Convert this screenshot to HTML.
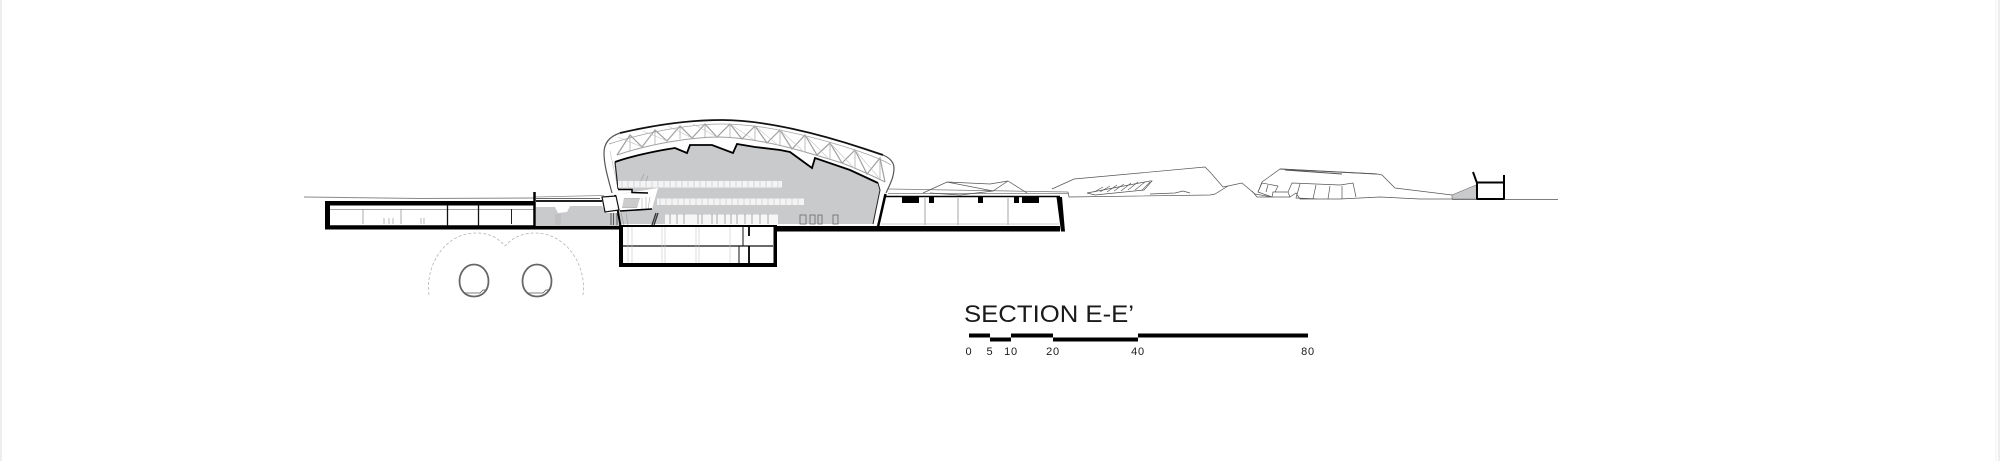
<!DOCTYPE html>
<html><head><meta charset="utf-8"><style>
html,body{margin:0;padding:0;background:#fff;width:2000px;height:461px;overflow:hidden}
svg{display:block}
text{font-family:"Liberation Sans",sans-serif;fill:#1a1a1a}
</style></head><body>
<svg width="2000" height="461" viewBox="0 0 2000 461" xmlns="http://www.w3.org/2000/svg">
<rect width="2000" height="461" fill="#fff"/>
<path d="M1 0V461M1999 0V461" stroke="#ddd" stroke-width="1"/>
<path d="M1996 0V461" stroke="#f0f0f0"/>

<!-- ground left -->
<path d="M304 197L420 198.500L535 198" stroke="#888" fill="none" stroke-width="1"/>
<path d="M535 197L604 195.500" stroke="#888" fill="none" stroke-width="0.8"/>

<!-- left long box -->
<path d="M325 201H535V226H620V229.500H325Z M330 205.500V225.300H535V205.500Z" fill="#000" fill-rule="evenodd"/>
<path d="M330 209.500H535" stroke="#888" stroke-width="0.7"/>
<path d="M363 209V224M401 209V224" stroke="#888" stroke-width="0.7"/>
<path d="M447.500 205V226M478.500 205V226" stroke="#111" stroke-width="1.300"/>
<path d="M511.500 209V224" stroke="#222" stroke-width="1"/>
<path d="M384 218V224M389 218V224M393 218V224M421 218V224M424 218V224" stroke="#aaa" stroke-width="0.8"/>
<!-- grey block -->
<path d="M536 207H555L558 213L567 212L570 206H602L606 213H622V226H536Z" fill="#c9cacc"/>
<path d="M556 214V225M558 214V225M560 214V225" stroke="#aaa" stroke-width="0.6"/>
<path d="M534.500 192V226" stroke="#000" stroke-width="2.500"/>
<path d="M536 198.500H600" stroke="#333" stroke-width="0.8"/>
<path d="M536 201H602" stroke="#000" stroke-width="1.800"/>

<!-- tunnel guides -->
<path d="M429 295C425 265 445 233 476 233C490 233 498 238 505 246C512 238 522 233 535 233C566 233 587 265 583 295" fill="none" stroke="#b5b5b5" stroke-width="0.8" stroke-dasharray="3 2"/>
<path d="M474 264.500C483 264.500 488.500 273 488.500 281C488.500 291 482 296.500 474 296.500C466 296.500 459.500 291 459.500 281C459.500 273 465 264.500 474 264.500Z M537 264.500C546 264.500 551.500 273 551.500 281C551.500 291 545 296.500 537 296.500C529 296.500 522.500 291 522.500 281C522.500 273 528 264.500 537 264.500Z" fill="#fff" stroke="#666" stroke-width="1.800"/>
<path d="M464 293H480L483 290H487M527 293H543L546 290H550" fill="none" stroke="#555" stroke-width="0.7"/>

<!-- roof shell -->
<path d="M612 193C608 178 604 165 604 153C604 142 611 136 620 133C650 126 685 120 722 120C765 120 820 134 865 149C880 154 894 160 894 168C894 178 889 186 885 195L878 226H621Z" fill="#fff"/>
<!-- truss -->
<g fill="none" stroke="#a0a0a0" stroke-width="1.200">
<path d="M617 155L630 135L642 147L655 130L667 141L680 126L692 138L705 124L717 137L730 124L742 139L755 126L767 143L780 130L792 149L805 135L817 155L830 143L842 163L855 150L867 174L880 158L885 182"/>
<path d="M617 155C650 144 690 137 720 137C760 138 800 150 842 163C860 170 875 177 885 182" stroke-width="1"/>
<path d="M609 144C640 134 685 124 722 124C765 124 815 137 855 150C870 155 885 161 891 165" stroke-width="0.7"/>
<path d="M630 135L630 151M655 130L655 144M680 126L680 139M705 124L705 137M730 124L730 138M755 126L755 141M780 130L780 146M805 135L805 152M830 143L830 159M855 150L855 168M880 158L880 179" stroke-width="0.7"/>
<path d="M642 147L618 137M667 141L643 131M692 138L668 126M717 137L693 124M730 124L754 140M755 126L779 146M780 130L804 152M805 135L829 159M830 143L854 168M855 150L879 178" stroke="#c5c5c5" stroke-width="0.6"/>
</g>
<path d="M612 193C608 178 604 165 604 153C604 142 611 136 620 133" fill="none" stroke="#555" stroke-width="1.200"/>
<path d="M620 133C650 126 685 120 722 120C765 120 820 134 865 149C871 151 877 153 883 155" fill="none" stroke="#111" stroke-width="1.800"/>
<path d="M883 155C890 158 894 162 894 168C894 178 889 186 886 193" fill="none" stroke="#555" stroke-width="1.200"/>
<path d="M610 151L614 170L618 188" fill="none" stroke="#bbb" stroke-width="0.6"/>

<!-- grey interior -->
<path d="M615 162C628 157 655 151 675 148L687 153L690 145L712 145L733 153L737 144L755 147L780 150L790 152L812 168L815 158L850 170L878 183L880 190L873 224H621L618 212L615 195L632 192V189L618 189.500Z" fill="#c9cacc"/>
<path d="M615 162C628 157 655 151 675 148L687 153L690 145L712 145L733 153L737 144L755 147L780 150L790 152L812 168L815 158L850 170L878 183" fill="none" stroke="#000" stroke-width="1.800"/>
<path d="M878 183L880 190L873 224" fill="none" stroke="#222" stroke-width="1"/>
<path d="M615 162L618 189" fill="none" stroke="#222" stroke-width="1.200"/>
<!-- white bands -->
<rect x="618" y="181" width="164" height="6.500" fill="#f4f4f4"/>
<rect x="657" y="198.500" width="147" height="6.500" fill="#f4f4f4"/>
<rect x="665" y="214.500" width="113" height="10" fill="#f6f6f6"/>
<path d="M622 181V187M628 181V187M634 181V187M640 181V187M646 181V187M652 181V187M658 181V187M664 181V187M670 181V187M676 181V187M682 181V187M688 181V187M694 181V187M700 181V187M706 181V187M712 181V187M718 181V187M724 181V187M730 181V187M736 181V187M742 181V187M748 181V187M754 181V187M760 181V187M766 181V187M772 181V187M778 181V187" stroke="#c9c9c9" stroke-width="0.7"/>
<path d="M660 198.500V205M666 198.500V205M672 198.500V205M678 198.500V205M684 198.500V205M690 198.500V205M696 198.500V205M702 198.500V205M708 198.500V205M714 198.500V205M720 198.500V205M726 198.500V205M732 198.500V205M738 198.500V205M744 198.500V205M750 198.500V205M756 198.500V205M762 198.500V205M768 198.500V205M774 198.500V205M780 198.500V205M786 198.500V205M792 198.500V205M798 198.500V205" stroke="#c9c9c9" stroke-width="0.7"/>
<path d="M670 214V224M677 214V224M684 214V224M698 214V224M702 214V224M712 214V224M717 214V224M725 214V224M731 214V224M737 214V224M745 214V224M752 214V224M760 214V224M768 214V224" stroke="#888" stroke-width="0.7"/>
<path d="M800 215H806V224H800ZM810 215H815V224H810ZM818 215H822V224H818ZM833 215H838V224H833Z" fill="none" stroke="#666" stroke-width="0.8"/>

<!-- entry / stair detail -->
<path d="M615 195L658 188L652 209L620 211Z" fill="#fff"/>
<path d="M624 198H640L637 208H622Z" fill="#bbb"/>
<path d="M624 200H640M623 202H639M623 204H638M622 206H637" stroke="#fff" stroke-width="0.6"/>
<path d="M642 198V209M646 197V209M650 197L648 209" stroke="#aaa" stroke-width="0.6"/>
<path d="M618 189.500H632V192.500L648 193" fill="none" stroke="#000" stroke-width="1.500"/>
<path d="M615 195L620.500 226" fill="none" stroke="#000" stroke-width="2"/>
<path d="M620 211L652 209" fill="none" stroke="#000" stroke-width="1.500"/>
<path d="M641 181L644 174M646 181L648 176" stroke="#999" stroke-width="0.6"/>
<path d="M602 197L616 196L619 210L605 212Z" fill="#fff" stroke="#111" stroke-width="1.200"/>
<path d="M611 213V225M613.500 213V225M617 213V225" stroke="#555" stroke-width="1"/>
<path d="M656 213L652 225M658 213L654 225" stroke="#333" stroke-width="1.300"/>
<path d="M621 213L624 225M626 213L628 225" stroke="#999" stroke-width="0.6"/>

<!-- basement -->
<path d="M619 225H777V267H619Z M623 227V263H773.500V227Z" fill="#000" fill-rule="evenodd"/>
<path d="M623 246H773" stroke="#111" stroke-width="1.300"/>
<path d="M743 227V246M739 246V263" stroke="#111" stroke-width="1"/>
<path d="M749 246V263M749 227V236" stroke="#000" stroke-width="1.800"/>
<path d="M628 227V263M632 227V263M662 227V263M665 227V263M696 227V263M699 227V263M730 227V263" stroke="#c5c5c5" stroke-width="0.6"/>

<!-- middle box -->
<path d="M777 226H1060V231.500H777Z" fill="#000"/>
<path d="M1062 197H1056.500L1061 231.500H1065Z" fill="#000"/>
<path d="M885 196.500H1060" stroke="#000" stroke-width="1.600"/>
<path d="M885.500 194L878 227" stroke="#000" stroke-width="2.500"/>
<path d="M902 197H919V203H902ZM929 197H934V203H929ZM978 197H983V203H978ZM1014 197H1019V203H1014ZM1022 197H1039V203H1022Z" fill="#000"/>
<path d="M925 198V225M958 198V225M1008 198V225" stroke="#b5b5b5" stroke-width="1.200"/>
<path d="M881 224H1059" stroke="#bbb" stroke-width="0.7"/>
<path d="M888 189L1068 192M888 193.500H1068" stroke="#777" stroke-width="0.7" fill="none"/>

<!-- hills -->
<g fill="none" stroke="#555" stroke-width="0.7">
<path d="M923 193L947 182L993 191L1008 181L1027 193"/>
<path d="M947 182L990 184L1008 181M930 193L960 195L993 191"/>
<path d="M1052 189L1074 179L1205 167L1210 172L1223 187L1228 186L1242 183L1255 194L1272 197L1258 192L1262 182L1280 169L1377 174L1382 175L1395 188L1452 195"/>
<path d="M1068 192L1069 197L1210 195L1215 194L1228 186"/>
<path d="M1150 194L1175 193L1183 191L1190 193"/>
<path d="M1087 193L1150 181L1152 181L1144 190L1095 195Z"/>
<path d="M1094 192L1103 187M1100 192L1110 186M1107 192L1117 185M1114 191L1124 184M1121 191L1131 183M1128 190L1138 182M1135 190L1145 182M1142 190L1150 182" stroke-width="0.6"/>
<path d="M1280 169L1377 174M1285 170L1342 174" stroke-width="0.9"/>
<path d="M1252 191L1257 197H1272L1273 192H1288L1290 197H1272M1288 192L1292 183L1340 185L1353 183L1356 197"/>
<path d="M1258 192L1262 183L1278 186L1275 192M1268 185L1266 192M1300 184L1296 198L1318 199M1316 185L1313 199M1330 186L1328 199M1342 186L1342 199M1290 197L1296 193L1300 199H1340L1380 197L1420 199L1452 199"/>
</g>

<!-- end building -->
<path d="M1452 195L1476 185L1477 199H1452Z" fill="#c9cacc" stroke="#666" stroke-width="0.6"/>
<path d="M1473 172L1477 183V199H1504V175M1477 182.500H1504" fill="none" stroke="#000" stroke-width="2"/>
<path d="M1504 199.500H1558" stroke="#555" stroke-width="0.8"/>
<path d="M1452 199.500H1477" stroke="#555" stroke-width="0.8"/>

<!-- title -->
<text x="964" y="322" font-size="24" textLength="170" lengthAdjust="spacingAndGlyphs">SECTION E-E’</text>
<rect x="969" y="333.500" width="21" height="4" fill="#000"/>
<rect x="990" y="337.500" width="21" height="4" fill="#000"/>
<rect x="1011" y="333.500" width="42" height="4" fill="#000"/>
<rect x="1053" y="337.500" width="85" height="4" fill="#000"/>
<rect x="1138" y="333.500" width="170" height="4" fill="#000"/>
<g font-size="11" text-anchor="middle" letter-spacing="0.800">
<text x="969" y="355">0</text><text x="990" y="355">5</text><text x="1011" y="355">10</text><text x="1053" y="355">20</text><text x="1138" y="355">40</text><text x="1308" y="355">80</text>
</g>
</svg>
</body></html>
